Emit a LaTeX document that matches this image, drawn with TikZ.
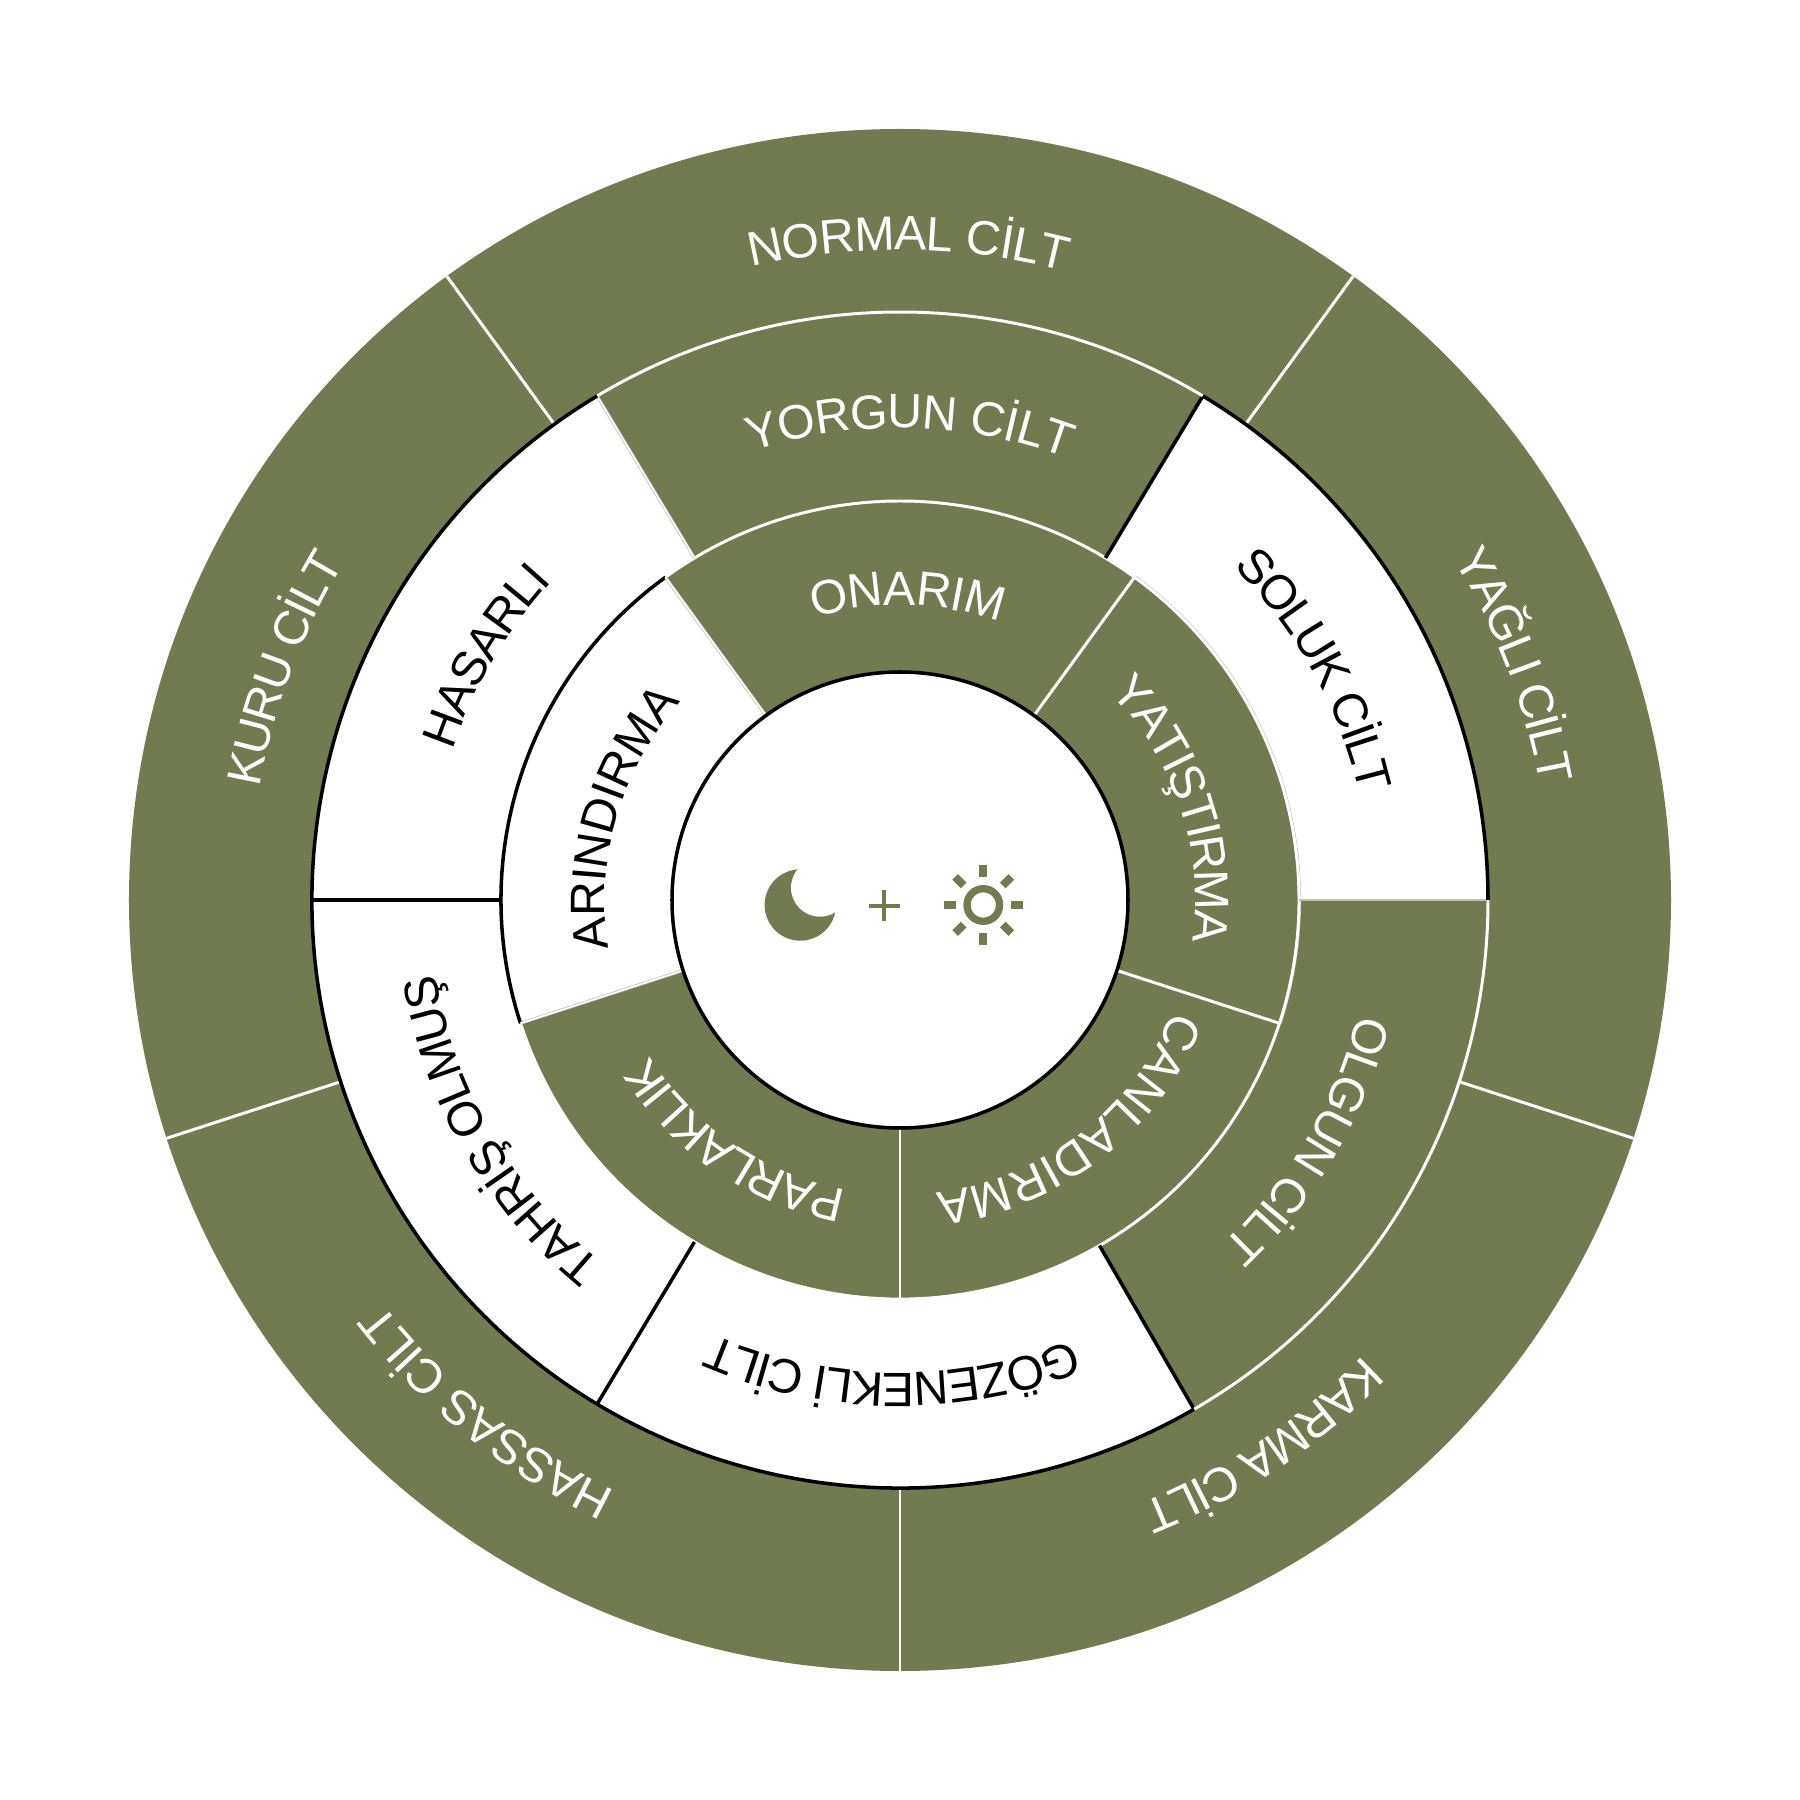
\documentclass[tikz,border=0pt]{standalone}
\usepackage{fontspec}
\setmainfont{Liberation Sans}
\usetikzlibrary{calc}
\definecolor{olive}{HTML}{727A4F}
\definecolor{seam}{HTML}{BDBDBD}
\font\labelraw="Liberation Sans" at 13.7pt
\newdimen\ringtotal \newdimen\ringpos \newdimen\glyphwd \newcount\ringcount \newcount\glyphno
\newcommand{\ringlabel}[5]{% radius, start, end, colour, letters
  \global\ringtotal=0pt \global\ringcount=0
  \foreach \gly in {#5}{\setbox0=\hbox{\labelraw\gly}\global\advance\ringtotal by \wd0 \global\advance\ringcount by 1 }%
  \pgfmathsetmacro{\ringrad}{#1*0.284528}%
  \pgfmathsetmacro{\ringtrack}{((#2-(#3))/57.29578*\ringrad-\the\ringtotal)/(\the\ringcount-1)}%
  \global\ringpos=0pt
  \foreach \gly in {#5}{%
    \setbox0=\hbox{\labelraw\gly}%
    \global\glyphwd=\wd0
    \pgfmathsetmacro{\glyang}{#2-(\the\ringpos+0.5*\the\glyphwd)/\ringrad*57.29578}%
    \global\advance\glyphno by 1
    \node[glyphbox,text=#4,rotate=\glyang-90] (g\the\glyphno) at (\glyang:#1) {\gly};
    \global\advance\ringpos by \glyphwd
    \global\advance\ringpos by \ringtrack pt
  }}
\newcommand{\sector}[4]{% r0, r1, a0, a1
  (#3:#1) -- (#3:#2) arc[start angle=#3,end angle=#4,radius=#2] -- (#4:#1) arc[start angle=#4,end angle=#3,radius=#1] -- cycle}
\tikzset{
  wline/.style={draw=white,line width=0.85pt},
  kline/.style={draw=black,line width=1pt},
  gline/.style={draw=seam,line width=0.85pt},
  hair/.style={draw=white,line width=0.45pt},
  glyphbox/.style={inner sep=0pt,outer sep=0pt,anchor=base,font=\labelraw},
}
\begin{document}
\begin{tikzpicture}[x=0.01cm,y=0.01cm]
\useasboundingbox (-900,-900) rectangle (900,900);
\fill[white] (-900,-900) rectangle (900,900);
% discs and sectors
\fill[olive] (0,0) circle[radius=771];
\fill[white] (0,0) circle[radius=588];
\fill[olive] \sector{399}{588}{59}{121};
\fill[olive] \sector{399}{588}{-60}{0};
\fill[olive] (0,0) circle[radius=399];
\fill[white] \sector{228}{399}{126}{198};
\fill[white] (0,0) circle[radius=228];
% outer spokes
\foreach \a in {-90,-18,54,126,198} \draw[wline] (\a:588) -- (\a:771);
% ring R=399 arcs
\draw[gline,line width=0.3pt] (-18:400.5) arc[start angle=-18,end angle=54,radius=400.5];
\draw[wline] (54:399) arc[start angle=54,end angle=126,radius=399];
\draw[wline] (-18:399) arc[start angle=-18,end angle=54,radius=399];
\draw[wline] (198:399) arc[start angle=198,end angle=342,radius=399];
\draw[kline] (126:399) arc[start angle=126,end angle=198,radius=399];
% inner spokes
\foreach \a in {-90,-18,54} \draw[wline] (\a:228) -- (\a:399);
\foreach \a in {126,198} {\draw[gline] (\a:228) -- (\a:399); \draw[hair] (\a:228) -- (\a:399);}
% middle spokes
\foreach \a in {59,180,239,300} \draw[kline] (\a:399) -- (\a:588);
\draw[gline] (121:399) -- (121:588); \draw[hair] (121:399) -- (121:588);
\draw[gline] (0:399) -- (0:588);
% ring R=588 arcs
\draw[wline] (59:588) arc[start angle=59,end angle=121,radius=588];
\draw[wline] (-60:588) arc[start angle=-60,end angle=0,radius=588];
\draw[kline] (0:588) arc[start angle=0,end angle=59,radius=588];
\draw[kline] (121:588) arc[start angle=121,end angle=300,radius=588];
% centre
\draw[kline] (0,0) circle[radius=228];
% moon
\fill[olive] (-99.7,-5) circle[radius=35.7];
\fill[white] (-80,12.3) circle[radius=29];
% plus
\fill[olive] (-31,-7.85) rectangle (-0.4,-3.55);
\fill[olive] (-17.85,-21) rectangle (-13.55,9.6);
% sun
\draw[olive,line width=2.08pt] (83.3,-5) circle[radius=16.3];
\foreach \a in {0,45,...,315} \draw[olive,line width=2.28pt] ($(83.3,-5)+(\a:27.7)$) -- ($(83.3,-5)+(\a:39.7)$);
% labels
\ringlabel{650}{103.2}{75.3}{white}{N,O,R,M,A,L,~,C,İ,L,T}
\ringlabel{472}{108.3}{69.3}{white}{Y,O,R,G,U,N,~,C,İ,L,T}
\ringlabel{295}{106.9}{70.2}{white}{O,N,A,R,I,M}
\ringlabel{472}{45}{13}{black}{S,O,L,U,K,~,C,İ,L,T}
\ringlabel{650}{31.6}{10.2}{white}{Y,A,Ğ,L,I,~,C,İ,L,T}
\ringlabel{295}{44.7}{-8}{white}{Y,A,T,I,Ş,T,I,R,M,A}
\ringlabel{295}{-22}{-83}{white}{C,A,N,L,A,D,I,R,M,A}
\ringlabel{295}{259.6}{211.8}{white}{P,A,R,L,A,K,L,I,K}
\ringlabel{295}{189.4}{137.9}{black}{A,R,I,N,D,I,R,M,A}
\ringlabel{472}{161.5}{137.5}{black}{H,A,S,A,R,L,I}
\ringlabel{650}{170}{148.8}{white}{K,U,R,U,~,C,İ,L,T}
\ringlabel{472}{-14}{-47}{white}{O,L,G,U,N,~,C,İ,L,T}
\ringlabel{650}{-44.5}{-68.3}{white}{K,A,R,M,A,~,C,İ,L,T}
\ringlabel{473}{-68.6}{-113.3}{black}{G,Ö,Z,E,N,E,K,L,İ,~,C,İ,L,T}
\ringlabel{656}{244.3}{217.8}{white}{H,A,S,S,A,S,~,C,İ,L,T}
\ringlabel{470}{230.7}{189}{black}{T,A,H,R,İ,Ş,~,O,L,M,U,Ş}
\end{tikzpicture}
\end{document}
